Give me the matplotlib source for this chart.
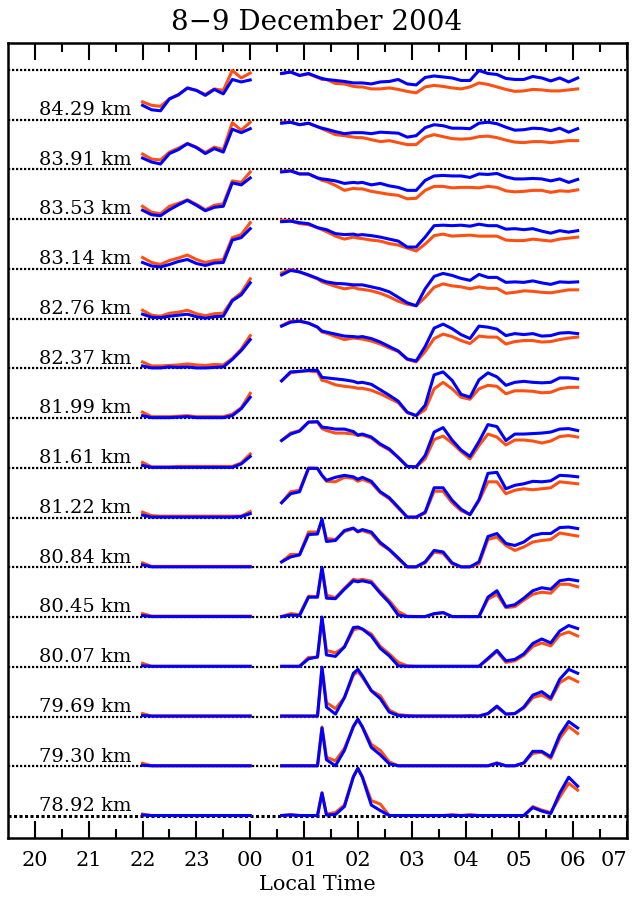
import matplotlib
matplotlib.use('Agg')
import matplotlib.pyplot as plt
import numpy as np

plt.rcParams['font.family'] = ['DejaVu Serif']

# altitude of each trace, top to bottom
heights = ['84.29', '83.91', '83.53', '83.14', '82.76', '82.37', '81.99', '81.61',
           '81.22', '80.84', '80.45', '80.07', '79.69', '79.30', '78.92']

# sample times, evening part and after midnight part
times_eve = ['22:00', '22:10', '22:20', '22:30', '22:40', '22:50', '23:00',
             '23:10', '23:20', '23:30', '23:40', '23:50', '00:00']
times_night = ['00:35', '00:45', '00:55', '01:05', '01:15', '01:20', '01:25', '01:35',
               '01:45', '01:55', '02:00', '02:05', '02:15', '02:25', '02:35', '02:45',
               '02:55', '03:05', '03:15', '03:25', '03:35', '03:45', '03:55', '04:05',
               '04:15', '04:25', '04:35', '04:45', '04:55', '05:05', '05:15', '05:25',
               '05:35', '05:45', '05:55', '06:05']

# signal in percent of the strip height
blue_eve = [
    [29, 20, 18, 42, 50, 64, 59, 49, 61, 52, 81, 76, 80],
    [23, 15, 11, 32, 40, 52, 44, 32, 42, 35, 81, 74, 82],
    [18, 9, 7, 19, 29, 38, 28, 17, 24, 26, 73, 69, 83],
    [13, 6, 4, 9, 15, 19, 11, 7, 12, 13, 58, 63, 81],
    [9, 3, 2, 5, 7, 9, 4, 1, 4, 5, 36, 48, 72],
    [5, 1, 1, 3, 2, 3, 1, 1, 2, 3, 18, 36, 58],
    [5, 1, 1, 1, 2, 3, 1, 1, 1, 1, 5, 19, 42],
    [5, 1, 1, 1, 1, 1, 1, 1, 1, 1, 1, 8, 23],
    [5, 1, 1, 1, 1, 1, 1, 1, 1, 1, 1, 2, 8],
    [5, 1, 1, 1, 1, 1, 1, 1, 1, 1, 1, 1, 1],
    [3, 1, 1, 1, 1, 1, 1, 1, 1, 1, 1, 1, 1],
    [2, 1, 1, 1, 1, 1, 1, 1, 1, 1, 1, 1, 1],
    [2, 1, 1, 1, 1, 1, 1, 1, 1, 1, 1, 1, 1],
    [2, 1, 1, 1, 1, 1, 1, 1, 1, 1, 1, 1, 1],
    [2, 1, 1, 1, 1, 1, 1, 1, 1, 1, 1, 1, 1],
]
red_eve = [
    [36, 29, 27, 42, 51, 63, 59, 51, 62, 59, 99, 84, 94],
    [31, 21, 19, 35, 43, 52, 45, 34, 45, 40, 94, 79, 95],
    [26, 14, 11, 26, 32, 39, 30, 19, 28, 31, 77, 74, 95],
    [23, 13, 9, 17, 22, 28, 19, 13, 17, 19, 63, 69, 93],
    [17, 7, 5, 11, 13, 17, 10, 6, 10, 11, 38, 52, 80],
    [13, 5, 5, 6, 7, 9, 7, 6, 8, 7, 20, 39, 66],
    [12, 3, 3, 3, 4, 5, 3, 3, 3, 3, 8, 21, 50],
    [11, 2, 2, 2, 3, 3, 3, 3, 3, 3, 3, 10, 28],
    [11, 4, 3, 3, 3, 3, 3, 3, 3, 3, 3, 3, 12],
    [9, 2, 2, 2, 2, 2, 2, 2, 2, 2, 2, 2, 2],
    [7, 2, 2, 2, 2, 2, 2, 2, 2, 2, 2, 2, 2],
    [7, 1, 1, 1, 1, 1, 1, 1, 1, 1, 1, 1, 1],
    [6, 1, 1, 1, 1, 1, 1, 1, 1, 1, 1, 1, 1],
    [6, 1, 1, 1, 1, 1, 1, 1, 1, 1, 1, 1, 1],
    [4, 1, 1, 1, 1, 1, 1, 1, 1, 1, 1, 1, 1],
]
blue_night = [
    [93, 96, 89, 93, 86, 83, 81, 79, 77, 74, 74, 74, 72, 76, 77, 81, 72, 70, 85, 88, 86, 84, 79, 79, 99, 93, 91, 83, 81, 81, 87, 84, 78, 84, 76, 84],
    [93, 95, 90, 93, 86, 83, 81, 76, 72, 74, 74, 74, 72, 75, 74, 73, 65, 68, 84, 90, 88, 83, 83, 82, 93, 95, 92, 85, 79, 80, 83, 82, 78, 83, 75, 82],
    [95, 97, 91, 91, 83, 81, 80, 77, 72, 74, 73, 74, 69, 72, 67, 64, 58, 58, 78, 87, 88, 87, 87, 84, 91, 90, 92, 85, 81, 81, 82, 81, 77, 81, 74, 80],
    [95, 96, 93, 91, 83, 81, 79, 71, 69, 70, 68, 69, 67, 64, 60, 56, 44, 44, 64, 87, 88, 87, 88, 86, 90, 87, 87, 80, 81, 79, 81, 76, 72, 77, 74, 77],
    [88, 97, 94, 88, 81, 77, 74, 71, 70, 68, 68, 68, 64, 60, 54, 43, 32, 26, 60, 85, 91, 87, 81, 77, 89, 83, 83, 73, 74, 73, 76, 72, 69, 74, 73, 74],
    [85, 93, 95, 91, 83, 75, 73, 69, 65, 64, 63, 64, 60, 53, 44, 35, 19, 15, 44, 81, 89, 80, 68, 60, 85, 83, 79, 66, 70, 68, 70, 65, 66, 71, 72, 70],
    [75, 93, 94, 96, 96, 82, 81, 79, 77, 74, 71, 72, 68, 57, 46, 34, 12, 5, 26, 87, 93, 76, 48, 42, 77, 91, 83, 66, 72, 74, 72, 71, 72, 81, 81, 79],
    [55, 68, 74, 92, 93, 82, 81, 78, 78, 73, 66, 68, 62, 48, 38, 21, 3, 2, 25, 72, 81, 56, 36, 23, 53, 87, 83, 55, 68, 68, 69, 70, 72, 78, 79, 75],
    [30, 48, 52, 99, 99, 85, 75, 81, 85, 82, 77, 81, 73, 52, 40, 21, 1, 1, 11, 60, 60, 35, 17, 6, 36, 89, 91, 58, 65, 68, 73, 72, 74, 85, 84, 82],
    [11, 21, 25, 66, 67, 97, 52, 54, 74, 79, 72, 76, 71, 50, 36, 19, 1, 1, 11, 34, 31, 9, 1, 1, 11, 62, 68, 48, 44, 51, 64, 68, 68, 80, 81, 78],
    [1, 4, 3, 40, 40, 100, 38, 37, 56, 73, 71, 73, 69, 48, 29, 4, 1, 1, 1, 7, 9, 1, 1, 1, 1, 40, 53, 21, 25, 38, 53, 59, 56, 73, 76, 73],
    [1, 1, 1, 16, 20, 100, 24, 21, 40, 79, 80, 76, 62, 37, 22, 2, 1, 1, 1, 1, 1, 1, 1, 1, 1, 17, 33, 12, 15, 26, 47, 56, 48, 72, 83, 77],
    [1, 1, 1, 1, 1, 99, 19, 5, 38, 87, 95, 82, 52, 36, 9, 2, 1, 1, 1, 1, 1, 1, 1, 1, 1, 6, 21, 5, 6, 19, 43, 50, 37, 75, 95, 87],
    [1, 1, 1, 1, 1, 77, 13, 1, 32, 80, 95, 79, 38, 23, 5, 1, 1, 1, 1, 1, 1, 1, 1, 1, 1, 1, 6, 1, 1, 7, 30, 30, 19, 63, 90, 77],
    [1, 2, 1, 1, 1, 46, 2, 3, 19, 79, 96, 78, 22, 11, 1, 1, 1, 1, 1, 1, 1, 1, 1, 1, 1, 1, 1, 1, 1, 1, 17, 10, 5, 46, 78, 60],
]
red_night = [
    [93, 96, 89, 92, 85, 81, 81, 73, 72, 67, 66, 66, 62, 62, 64, 61, 57, 54, 66, 69, 67, 64, 62, 66, 74, 71, 66, 61, 57, 58, 61, 60, 58, 58, 60, 62],
    [95, 95, 90, 93, 86, 82, 78, 70, 68, 65, 64, 64, 60, 56, 58, 54, 50, 50, 65, 70, 66, 62, 61, 62, 66, 67, 64, 59, 55, 54, 56, 56, 54, 56, 58, 58],
    [96, 98, 91, 91, 83, 78, 76, 68, 58, 62, 61, 61, 56, 53, 50, 48, 41, 42, 58, 66, 66, 63, 64, 64, 63, 66, 64, 57, 55, 56, 58, 58, 54, 57, 56, 59],
    [98, 97, 91, 89, 83, 79, 75, 66, 60, 64, 62, 61, 58, 56, 51, 48, 42, 36, 50, 67, 70, 66, 67, 68, 66, 66, 66, 58, 57, 57, 60, 58, 56, 60, 62, 64],
    [92, 99, 94, 87, 80, 74, 71, 65, 60, 63, 60, 59, 56, 51, 44, 35, 29, 26, 43, 63, 70, 66, 64, 60, 64, 61, 61, 51, 53, 56, 55, 53, 52, 55, 58, 58],
    [86, 95, 95, 91, 83, 73, 71, 64, 58, 61, 60, 59, 55, 49, 41, 34, 18, 13, 34, 60, 69, 64, 56, 50, 65, 63, 63, 49, 54, 56, 56, 53, 54, 58, 61, 63],
    [75, 91, 94, 95, 93, 76, 74, 67, 64, 62, 60, 60, 56, 49, 40, 31, 11, 5, 17, 59, 72, 59, 42, 38, 59, 66, 64, 49, 55, 55, 54, 51, 52, 59, 62, 62],
    [55, 70, 75, 92, 92, 79, 75, 70, 70, 68, 65, 66, 60, 46, 36, 21, 3, 2, 18, 57, 64, 50, 33, 18, 45, 68, 62, 46, 56, 56, 54, 50, 54, 63, 65, 62],
    [30, 52, 55, 100, 99, 85, 73, 72, 81, 79, 73, 77, 70, 50, 38, 19, 1, 1, 9, 53, 53, 30, 14, 6, 34, 72, 72, 48, 55, 58, 56, 58, 60, 72, 70, 68],
    [11, 26, 26, 71, 71, 93, 58, 56, 72, 78, 71, 74, 68, 47, 35, 17, 1, 1, 9, 31, 28, 7, 1, 1, 7, 56, 61, 44, 34, 41, 51, 54, 56, 69, 66, 63],
    [1, 7, 5, 42, 41, 98, 44, 39, 58, 76, 74, 76, 72, 51, 33, 11, 2, 1, 1, 6, 9, 1, 1, 1, 1, 36, 46, 19, 21, 34, 46, 50, 48, 66, 66, 61],
    [1, 1, 1, 19, 19, 98, 33, 28, 40, 74, 77, 76, 66, 41, 26, 9, 2, 1, 1, 1, 1, 1, 1, 1, 1, 15, 31, 9, 12, 23, 41, 48, 42, 64, 70, 62],
    [1, 1, 1, 1, 1, 99, 28, 16, 38, 83, 91, 79, 52, 42, 13, 4, 2, 1, 1, 1, 1, 1, 1, 2, 1, 6, 19, 5, 6, 17, 38, 43, 34, 68, 79, 70],
    [1, 1, 1, 1, 1, 79, 18, 11, 36, 80, 93, 80, 44, 32, 9, 1, 1, 1, 1, 1, 1, 1, 1, 1, 1, 1, 7, 1, 1, 6, 26, 28, 16, 56, 80, 66],
    [1, 3, 1, 1, 1, 47, 4, 7, 22, 79, 95, 79, 31, 24, 1, 1, 1, 1, 1, 1, 1, 3, 1, 3, 1, 1, 1, 1, 1, 1, 19, 12, 7, 38, 66, 52],
]

hour_labels = ['20', '21', '22', '23', '00', '01', '02', '03', '04', '05', '06', '07']

BLUE = '#0000ff'
RED = '#ff5014'


def to_hours(stamps):        # "hh:mm" -> hours counted from the evening
    out = []
    for s in stamps:
        h, m = s.split(':')
        h = int(h)
        if h < 12:
            h += 24
        out.append(h + int(m) / 60.0)
    return np.array(out)


t_eve = to_hours(times_eve)
t_night = to_hours(times_night)
n = len(heights)

fig = plt.figure(figsize=(6.33, 9.01), dpi=100)
ax = fig.add_axes([8 / 633, 63 / 901, 619 / 633, 795 / 901])
ax.set_xlim(19.5, 31)
ax.set_ylim(-0.442, 15.543)

# dotted base lines, one per strip plus the top one
for k in range(n + 1):
    ax.axhline(k, color='k', lw=1.6 if k else 2.2, linestyle=(0, (1, 0.8)), zorder=1)

for i in range(n):
    base = n - 1 - i
    for t, r, b in ((t_eve, red_eve[i], blue_eve[i]), (t_night, red_night[i], blue_night[i])):
        ax.plot(t, base + np.array(r) / 100.0, color=RED, lw=2.2, zorder=2)
        ax.plot(t, base + np.array(b) / 100.0, color=BLUE, lw=2.2, zorder=3)
    ax.text(20.94, base + 0.095, heights[i] + ' km', ha='center', va='baseline', fontsize=14)

ax.set_xticks(range(20, 32))
ax.set_xticklabels(hour_labels, fontsize=15)
ax.set_xticks(np.arange(20.5, 31, 1.0), minor=True)
ax.set_yticks([])
ax.tick_params(which='both', direction='in', top=True, bottom=True, width=1.5)
ax.tick_params(which='major', length=12, pad=9)
ax.tick_params(which='minor', length=6.5)
# last hour label sits on the frame edge, keep it inside the canvas
ax.get_xticklabels()[-1].set_horizontalalignment('right')
for sp in ax.spines.values():
    sp.set_linewidth(1.8)

ax.set_xlabel('Local Time', fontsize=15, labelpad=4)
fig.text(0.5, 1 - 22 / 901, '8\u22129 December 2004', ha='center', va='center', fontsize=20)

fig.savefig('out.png', dpi=100)
